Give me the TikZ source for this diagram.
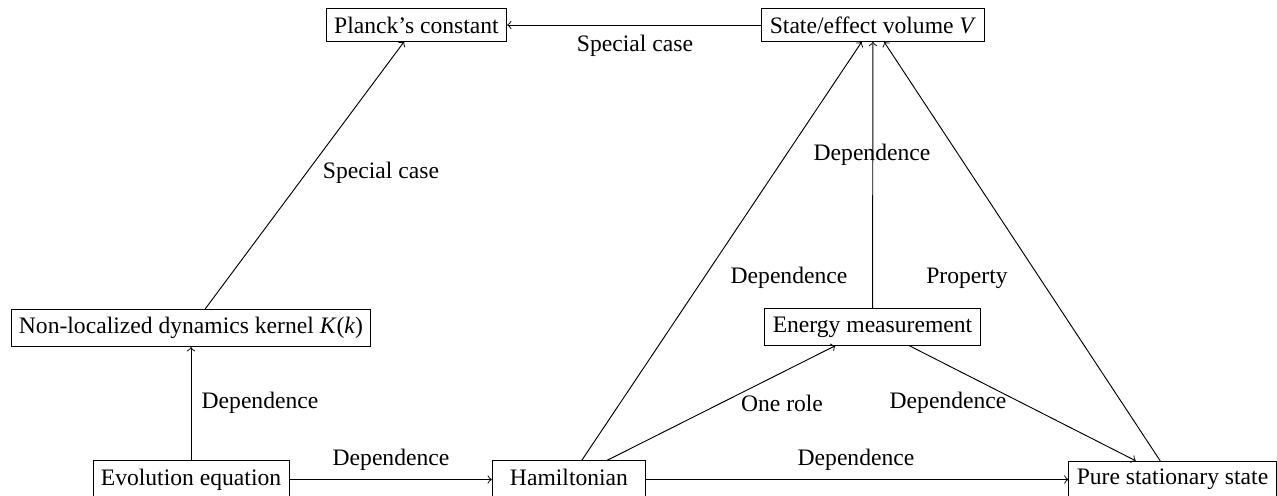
\documentclass[tikz,border=0pt]{standalone}
\usepackage{fontspec}
\setmainfont{Liberation Serif}
\tikzset{
  box/.style={draw, minimum width=65pt, font=\fontsize{10}{12}\selectfont},
  lbl/.style={inner sep=1pt, font=\fontsize{10}{12}\selectfont},
  arr/.style={->}
}
\begin{document}
\begin{tikzpicture}[x=0.4236pt,y=-0.4236pt]
\clip (0,0) rectangle (1277,496);
% nodes
\node[box] (planck) at (416.5,25) {Planck’s constant};
\node[box] (state) at (873,25) {State/effect volume \textit{V}};
\node[box] (nonloc) at (191,328) {Non-localized dynamics kernel \textit{K}(\textit{k})};
\node[box] (energy) at (872.5,327) {Energy measurement};
\node[box] (evol) at (191,479.5) {Evolution equation};
\node[box, text depth=2.2pt] (ham) at (569,479.5) {Hamiltonian};
\node[box] (pure) at (1172.5,479.5) {Pure stationary state};
% connectors
\draw[arr] (state) -- (planck);
\draw[arr] (nonloc) -- (planck);
\draw[arr] (evol) -- (nonloc);
\draw[arr] (evol) -- (ham);
\draw[arr] (ham) -- (state);
\draw[arr] (ham) -- (energy);
\draw[arr] (ham) -- (pure);
\draw[arr] (energy) -- (state);
\draw[arr] (energy) -- (pure);
\draw[arr] (pure) -- (state);
% labels
\node[lbl] (l1) at (635,46) {Special case};
\node[lbl] (l2) at (381,173) {Special case};
\node[lbl] (l3) at (260,403) {Dependence};
\node[lbl] (l4) at (391,460) {Dependence};
\node[lbl] (l5) at (789,278) {Dependence};
\node[lbl] (l6) at (872,155) {Dependence};
\node[lbl] (l7) at (967,278) {Property};
\node[lbl] (l8) at (782,403) {One role};
\node[lbl] (l9) at (948,403) {Dependence};
\node[lbl] (l10) at (856,460) {Dependence};
\end{tikzpicture}
\end{document}
